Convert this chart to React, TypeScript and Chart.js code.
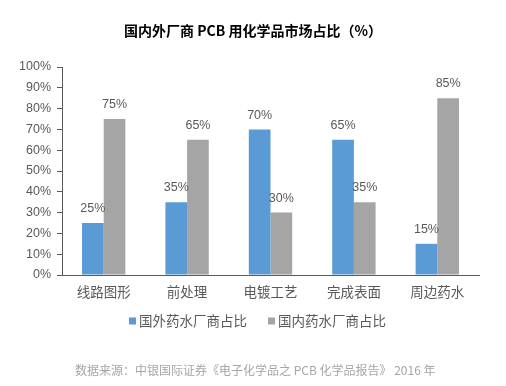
import React, { useEffect, useRef } from "react";
import { Chart, registerables } from "chart.js";

Chart.register(...registerables);

const categories = ["线路图形", "前处理", "电镀工艺", "完成表面", "周边药水"];
const foreignShare = [25, 35, 70, 65, 15];
const domesticShare = [75, 65, 30, 35, 85];
const seriesNames = ["国外药水厂商占比", "国内药水厂商占比"];
const seriesColors = ["#5b9bd5", "#a5a5a5"];
const titleText = "国内外厂商 PCB 用化学品市场占比（%）";
const sourceText = "数据来源：中银国际证券《电子化学品之 PCB 化学品报告》 2016 年";

const CJK = '"Noto Sans CJK SC", "Noto Sans", sans-serif';
const NUM = '"Liberation Sans Narrow", "Liberation Sans", Arial, sans-serif';
const TEXT_COLOR = "#595959";

const decorPlugin = {
  id: "decor",
  afterDatasetsDraw(chart: any) {
    const ctx = chart.ctx;
    ctx.save();
    ctx.font = `12.5px ${NUM}`;
    ctx.fillStyle = TEXT_COLOR;
    ctx.textAlign = "center";
    ctx.textBaseline = "bottom";
    chart.data.datasets.forEach((ds: any, di: number) => {
      const meta = chart.getDatasetMeta(di);
      meta.data.forEach((el: any, i: number) => {
        ctx.fillText(ds.data[i] + "%", el.x, el.y - 8);
      });
    });
    ctx.restore();
  },
  afterDraw(chart: any) {
    const ctx = chart.ctx;
    ctx.save();
    ctx.font = `bold 14px ${CJK}`;
    ctx.fillStyle = "#000000";
    ctx.textAlign = "center";
    ctx.textBaseline = "middle";
    ctx.fillText(titleText, 253, 31);
    ctx.font = `13.5px ${CJK}`;
    ctx.textAlign = "left";
    const boxSize = 7;
    const gap = 3;
    const itemGap = 21;
    const widths = chart.data.datasets.map(
      (ds: any) => boxSize + gap + ctx.measureText(ds.label).width
    );
    const total = widths.reduce((a: number, b: number) => a + b, 0) + itemGap * (widths.length - 1);
    let x = 257.5 - total / 2;
    const ly = 321;
    chart.data.datasets.forEach((ds: any, i: number) => {
      ctx.fillStyle = ds.backgroundColor;
      ctx.fillRect(x, ly - boxSize / 2, boxSize, boxSize);
      ctx.fillStyle = TEXT_COLOR;
      ctx.fillText(ds.label, x + boxSize + gap, ly);
      x += widths[i] + itemGap;
    });
    ctx.font = `12px ${CJK}`;
    ctx.fillStyle = "#a6a6a6";
    ctx.textAlign = "left";
    ctx.fillText(sourceText, 75, 370);
    ctx.restore();
  },
};

export default function App() {
  const canvasRef = useRef<HTMLCanvasElement | null>(null);

  useEffect(() => {
    if (!canvasRef.current) return;
    const chart = new Chart(canvasRef.current, {
      type: "bar",
      data: {
        labels: categories,
        datasets: [
          {
            label: seriesNames[0],
            data: foreignShare,
            backgroundColor: seriesColors[0],
            categoryPercentage: 0.52,
            barPercentage: 1,
          },
          {
            label: seriesNames[1],
            data: domesticShare,
            backgroundColor: seriesColors[1],
            categoryPercentage: 0.52,
            barPercentage: 1,
          },
        ],
      },
      options: {
        animation: false,
        responsive: false,
        maintainAspectRatio: false,
        layout: { padding: { left: 0, right: 27, top: 67, bottom: 81 } },
        plugins: {
          legend: { display: false },
          title: { display: false },
          tooltip: { enabled: false },
        },
        scales: {
          x: {
            grid: { display: true, drawOnChartArea: false, drawTicks: false },
            border: { display: true, color: "#595959", width: 1 },
            ticks: {
              color: TEXT_COLOR,
              font: { family: CJK, size: 13.5 },
              padding: 9,
            },
            afterFit: (scale: any) => {
              scale.height = 30;
            },
          },
          y: {
            min: 0,
            max: 100,
            grid: {
              display: true,
              drawOnChartArea: false,
              drawTicks: true,
              tickLength: 5,
              color: "#595959",
            },
            border: { display: true, color: "#595959", width: 1 },
            ticks: {
              stepSize: 10,
              color: TEXT_COLOR,
              font: { family: NUM, size: 12.5 },
              padding: 6,
              callback: (v: any) => v + "%",
            },
            afterFit: (scale: any) => {
              scale.width = 62;
            },
          },
        },
      },
      plugins: [decorPlugin],
    });
    return () => chart.destroy();
  }, []);

  return (
    <div style={{ position: "fixed", left: 0, top: 0, width: 506, height: 386, background: "#fff" }}>
      <canvas ref={canvasRef} width={506} height={386} style={{ width: 506, height: 386 }} />
    </div>
  );
}
